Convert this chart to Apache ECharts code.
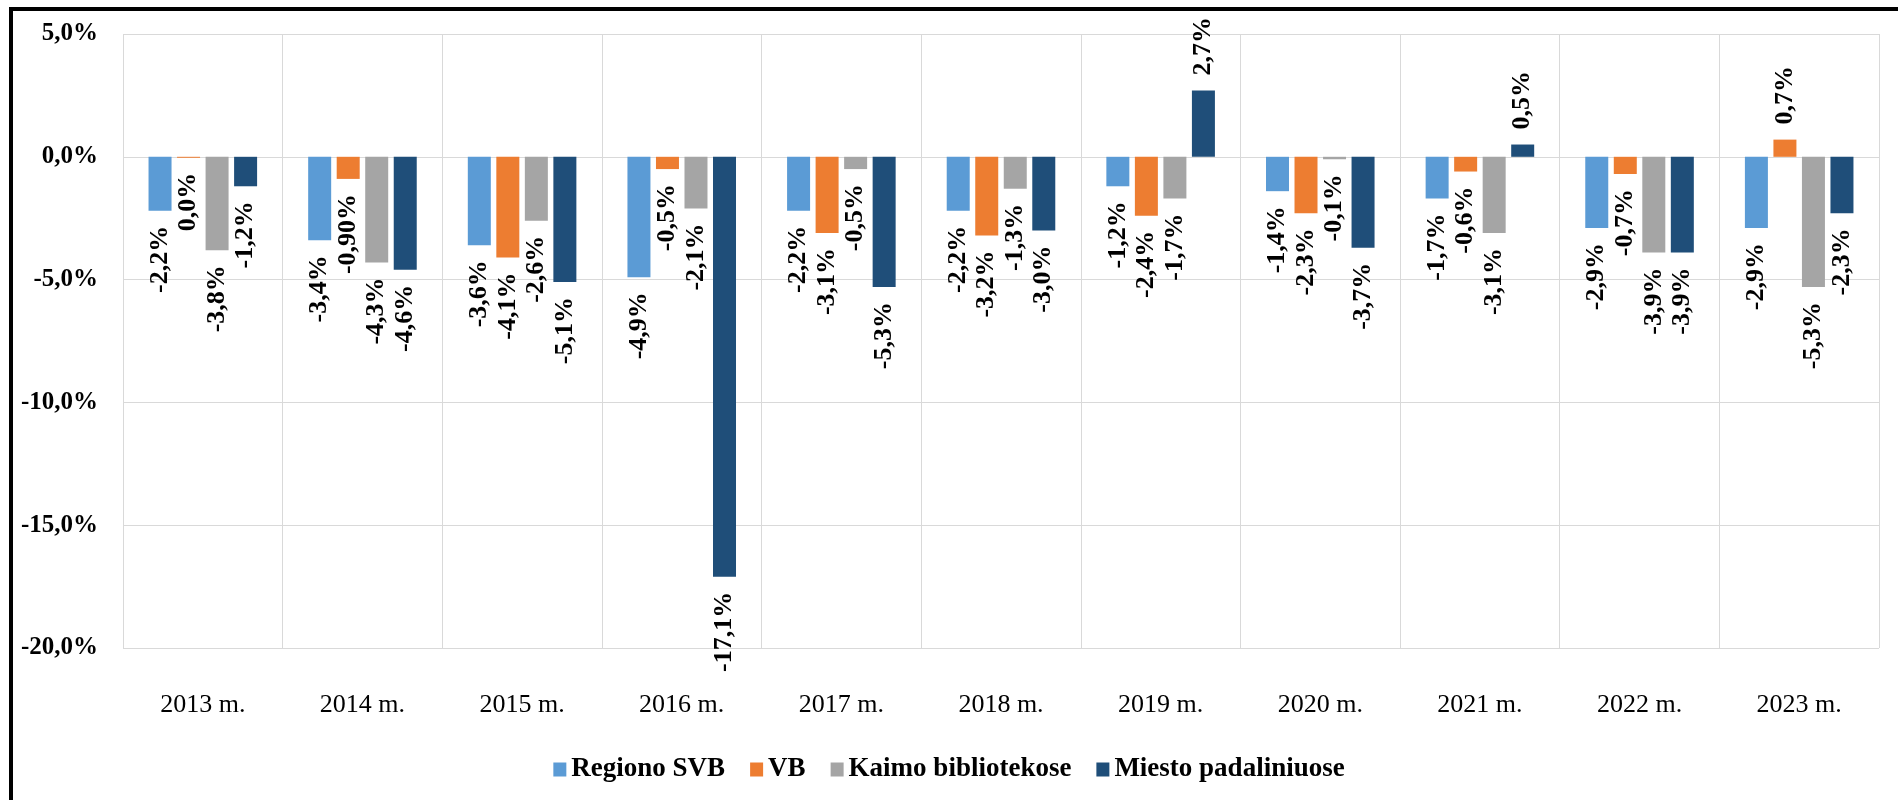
<!DOCTYPE html>
<html><head><meta charset="utf-8">
<script src="https://cdn.jsdelivr.net/npm/echarts@6/dist/echarts.min.js"></script>
<style>
html,body{margin:0;padding:0;background:#fff;width:1898px;height:800px;overflow:hidden;}
#chart{position:absolute;left:0;top:0;width:1898px;height:800px;}
#frame{position:absolute;left:9px;top:7px;width:2000px;height:900px;border-left:4px solid #000;border-top:4px solid #000;pointer-events:none;}
</style></head><body>
<div id="chart"></div>
<div id="frame"></div>
<script>
const categories = ['2013 m.','2014 m.','2015 m.','2016 m.','2017 m.','2018 m.','2019 m.','2020 m.','2021 m.','2022 m.','2023 m.'];
const seriesNames = ['Regiono SVB','VB','Kaimo bibliotekose','Miesto padaliniuose'];
const regionoSVB = [-2.2,-3.4,-3.6,-4.9,-2.2,-2.2,-1.2,-1.4,-1.7,-2.9,-2.9];
const vb = [-0.04,-0.90,-4.1,-0.5,-3.1,-3.2,-2.4,-2.3,-0.6,-0.7,0.7];
const kaimo = [-3.8,-4.3,-2.6,-2.1,-0.5,-1.3,-1.7,-0.1,-3.1,-3.9,-5.3];
const miesto = [-1.2,-4.6,-5.1,-17.1,-5.3,-3.0,2.7,-3.7,0.5,-3.9,-2.3];
const yMin = -20, yMax = 5, yStep = 5;
const labelOverrides = { '1-1': '-0,90%' };

const colors = ['#5B9BD5','#ED7D31','#A5A5A5','#1F4E79'];
const FONT = "'Liberation Serif','Times New Roman',serif";

function fmtPct(v){
  if (Math.abs(v) < 0.05) return '0,0%';
  return v.toFixed(1).replace('.', ',') + '%';
}

const allValues = [regionoSVB, vb, kaimo, miesto];
const series = allValues.map((arr, si) => ({
  name: seriesNames[si],
  type: 'bar',
  barWidth: 23,
  barGap: '24%',
  itemStyle: { color: colors[si] },
  label: {
    show: true,
    rotate: 90,
    distance: 15,
    verticalAlign: 'middle',
    color: '#000',
    fontFamily: FONT,
    fontWeight: 'bold',
    fontSize: 26,
    formatter: p => labelOverrides[p.seriesIndex + '-' + p.dataIndex] || fmtPct(p.value)
  },
  data: arr.map(v => ({
    value: v,
    label: { position: v >= 0 ? 'top' : 'bottom', align: v >= 0 ? 'left' : 'right' }
  }))
}));

const chart = echarts.init(document.getElementById('chart'), null, { renderer: 'canvas' });
chart.setOption({
  animation: false,
  backgroundColor: '#fff',
  color: colors,
  grid: { left: 123, right: 19, top: 34, bottom: 152, containLabel: false },
  legend: {
    data: seriesNames,
    bottom: 12,
    left: 'center',
    itemWidth: 13,
    itemHeight: 14,
    itemGap: 25,
    icon: 'rect',
    textStyle: { fontFamily: FONT, fontWeight: 'bold', fontSize: 27, color: '#000' }
  },
  xAxis: {
    type: 'category',
    data: categories,
    axisLine: { show: false, onZero: false },
    axisTick: { show: false },
    splitLine: { show: true, lineStyle: { color: '#D9D9D9', width: 1 } },
    axisLabel: { margin: 44, fontFamily: FONT, fontSize: 26, color: '#000', interval: 0 }
  },
  yAxis: {
    type: 'value',
    min: yMin, max: yMax, interval: yStep,
    axisLine: { show: false },
    axisTick: { show: false },
    splitLine: { show: true, lineStyle: { color: '#D9D9D9', width: 1 } },
    axisLabel: {
      margin: 25,
      fontFamily: FONT, fontWeight: 'bold', fontSize: 25, color: '#000',
      formatter: v => v.toFixed(1).replace('.', ',') + '%'
    }
  },
  series: series
});
</script>
</body></html>
